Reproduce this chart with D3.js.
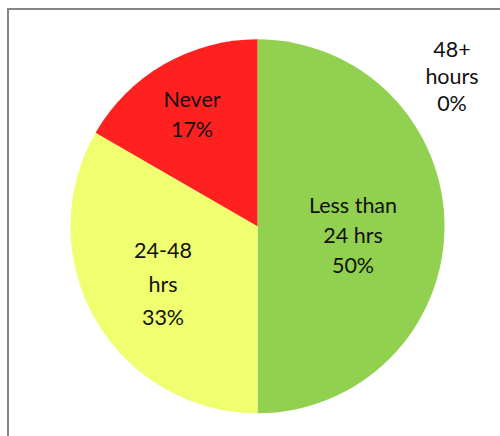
<!DOCTYPE html>
<html><head><meta charset="utf-8">
<script src="https://cdn.jsdelivr.net/npm/d3@7"></script>
<style>html,body{margin:0;padding:0;background:#fff;overflow:hidden}</style>
</head><body>
<svg id="chart" width="500" height="436"></svg>
<script>
const categories = ["Less than 24 hrs", "48+ hours", "24-48 hrs", "Never"];
const values = [3, 0, 2, 1];
const labelLines = [["Less than", "24 hrs", "50%"], ["48+", "hours", "0%"], ["24-48", "hrs", "33%"], ["Never", "17%"]];
const colors = ["#92D050", "#FFFFFF", "#EFFF6F", "#FF2020"];

// layout (label anchors and line spacing)
const labelLayout = [
  {x: 353, y: 213, dy: 30},
  {x: 452, y: 57, dy: 27},
  {x: 163, y: 258, dy: 33.5},
  {x: 192, y: 107, dy: 30}
];

const svg = d3.select("#chart");
svg.append("rect").attr("x", 8).attr("y", 9).attr("width", 520).attr("height", 460)
  .attr("fill", "#fff").attr("stroke", "#868686").attr("stroke-width", 2);

const cx = 257.5, cy = 226.3, r = 187;
const pie = d3.pie().sort(null).value(d => d)(values);
const arc = d3.arc().innerRadius(0).outerRadius(r);
const g = svg.append("g").attr("transform", `translate(${cx},${cy})`);
g.selectAll("path").data(pie).join("path")
  .attr("d", arc).attr("fill", (d, i) => colors[i]);

const lg = svg.append("g").attr("font-family", "Lato, 'Open Sans', sans-serif").attr("font-size", 21.5).attr("fill", "#111");
labelLines.forEach((lines, i) => {
  const L = labelLayout[i];
  lines.forEach((t, j) => {
    lg.append("text").attr("x", L.x).attr("y", L.y + j * L.dy).attr("text-anchor", "middle").text(t);
  });
});
</script>
</body></html>
